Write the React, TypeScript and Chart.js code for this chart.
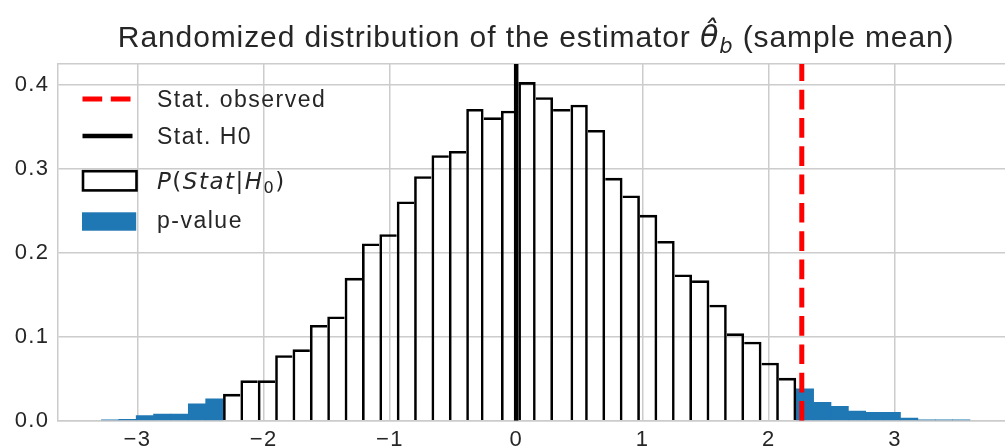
import React, { useEffect, useRef } from 'react';
import { Chart, registerables } from 'chart.js';

Chart.register(...registerables);

// ---------------- data ----------------
const binCenters = [
  -3.2162, -3.0786, -2.9410, -2.8035, -2.6659, -2.5283, -2.3907, -2.2531, -2.1156, -1.9780,
  -1.8404, -1.7028, -1.5652, -1.4277, -1.2901, -1.1525, -1.0149, -0.8773, -0.7398, -0.6022,
  -0.4646, -0.3270, -0.1894, -0.0519, 0.0857, 0.2233, 0.3609, 0.4985, 0.6360, 0.7736,
  0.9112, 1.0488, 1.1864, 1.3239, 1.4615, 1.5991, 1.7367, 1.8743, 2.0118, 2.1494,
  2.2870, 2.4246, 2.5622, 2.6997, 2.8373, 2.9749, 3.1125, 3.2501, 3.3876, 3.5252,
];
const density = [
  0.0008, 0.0015, 0.006, 0.008, 0.008, 0.020, 0.026, 0.032, 0.048, 0.048,
  0.078, 0.085, 0.114, 0.124, 0.170, 0.211, 0.222, 0.261, 0.291, 0.316,
  0.321, 0.371, 0.361, 0.369, 0.403, 0.385, 0.371, 0.376, 0.346, 0.289,
  0.268, 0.245, 0.214, 0.174, 0.167, 0.138, 0.104, 0.094, 0.069, 0.051,
  0.038, 0.022, 0.017, 0.0115, 0.010, 0.010, 0.003, 0.0008, 0.0008, 0.0008,
];
const statObserved = 2.262;
const statH0 = 0;
const xLimits = [-3.629, 3.938];
const yLimits = [0, 0.4245];
const xTickValues = [-3, -2, -1, 0, 1, 2, 3];
const yTickValues = [0, 0.1, 0.2, 0.3, 0.4];
const titleText = 'Randomized distribution of the estimator $\\hat{\\theta}_b$ (sample mean)';
const legendLabels = ['Stat. observed', 'Stat. H0', '$P(Stat|H_0)$', 'p-value'];

// ---------------- style ----------------
const CANVAS_W = 1030;
const CANVAS_H = 480;
const PLOT_LEFT = 58;
const PLOT_TOP = 64;
const PLOT_RIGHT = 1013.4;
const PLOT_BOTTOM = 420.7;
const TEXT_FONT = '"Liberation Sans", Arial, sans-serif';
const MATH_FONT = '"DejaVu Sans", sans-serif';
const TEXT_COLOR = '#262626';
const GRID_COLOR = '#cccccc';
const TICK_SIZE = 22;
const TICK_SPACING = '1.3px';
const LEGEND_SIZE = 23;
const LEGEND_SPACING = 1.5;
const TITLE_SIZE = 30;
const TITLE_SPACING = 0.9;
const EDGE = 2.6;

const isTail = (i: number) => i >= 0 && i < binCenters.length && Math.abs(binCenters[i]) >= statObserved;

type Seg = { t: string; italic: boolean; sub: boolean; math: boolean };

function parseRich(s: string): Seg[] {
  const segs: Seg[] = [];
  s.split('$').forEach((p, k) => {
    if (k % 2 === 0) {
      if (p) segs.push({ t: p, italic: false, sub: false, math: false });
      return;
    }
    let i = 0;
    let sub = false;
    while (i < p.length) {
      const hat = '\\hat{\\theta}';
      if (p.startsWith(hat, i)) {
        segs.push({ t: '\u03b8\u0302', italic: true, sub, math: true });
        i += hat.length;
        sub = false;
        continue;
      }
      const c = p[i];
      if (c === '_') {
        sub = true;
        i++;
        continue;
      }
      segs.push({ t: c, italic: /[A-Za-z]/.test(c), sub, math: true });
      sub = false;
      i++;
    }
  });
  return segs;
}

function drawRich(
  ctx: CanvasRenderingContext2D,
  text: string,
  x: number,
  y: number,
  size: number,
  spacing: number,
  align: 'left' | 'center'
) {
  const segs = parseRich(text);
  const fontOf = (s: Seg) => {
    const sz = s.sub ? size * 0.7 : size;
    return `${s.italic ? 'italic ' : ''}${sz}px ${s.math ? MATH_FONT : TEXT_FONT}`;
  };
  ctx.save();
  (ctx as any).letterSpacing = `${spacing}px`;
  const widths = segs.map((s) => {
    ctx.font = fontOf(s);
    return ctx.measureText(s.t).width;
  });
  const total = widths.reduce((a, b) => a + b, 0) - spacing;
  let cx = align === 'center' ? x - total / 2 : x;
  ctx.fillStyle = TEXT_COLOR;
  ctx.textAlign = 'left';
  ctx.textBaseline = 'alphabetic';
  segs.forEach((s, k) => {
    ctx.font = fontOf(s);
    ctx.fillText(s.t, cx, y + (s.sub ? size * 0.2 : 0));
    cx += widths[k];
  });
  ctx.restore();
}

const tickSpacingPlugin = {
  id: 'tickSpacing',
  beforeDraw(chart: any) {
    (chart.ctx as any).letterSpacing = TICK_SPACING;
  },
  beforeDatasetsDraw(chart: any) {
    (chart.ctx as any).letterSpacing = '0px';
  },
};

const titlePlugin = {
  id: 'richTitle',
  afterDraw(chart: any) {
    const { ctx, chartArea } = chart;
    drawRich(ctx, titleText, (chartArea.left + chartArea.right) / 2, 47, TITLE_SIZE, TITLE_SPACING, 'center');
  },
};

// rows: [sampleCenterY, textBaselineY] relative to plot top
const legendRows = [
  [35, 43.3],
  [72, 80.3],
  [116.8, 124.5],
  [157.5, 164.3],
];

const legendPlugin = {
  id: 'richLegend',
  afterDraw(chart: any) {
    const { ctx, chartArea } = chart;
    const x0 = chartArea.left + 24.5;
    const tx = chartArea.left + 99;
    chart.data.datasets.forEach((ds: any, k: number) => {
      const [sy, by] = legendRows[k];
      const y = chartArea.top + sy;
      ctx.save();
      if (ds.type === 'line') {
        ctx.strokeStyle = ds.borderColor;
        ctx.lineWidth = ds.borderWidth;
        ctx.setLineDash(ds.borderDash || []);
        ctx.beginPath();
        ctx.moveTo(x0, y);
        ctx.lineTo(x0 + 50, y);
        ctx.stroke();
      } else if (ds.legendKind === 'outline') {
        ctx.strokeStyle = '#000000';
        ctx.lineWidth = EDGE;
        ctx.strokeRect(x0 + 0.5, y - 9.6, 53.5, 19.2);
      } else {
        ctx.fillStyle = ds.backgroundColor;
        ctx.fillRect(x0 - 0.5, y - 9.2, 54.2, 18.4);
      }
      ctx.restore();
      drawRich(ctx, ds.label, tx, chartArea.top + by, LEGEND_SIZE, LEGEND_SPACING, 'left');
    });
  },
};

const fmtX = (v: number) => (v < 0 ? '\u2212' + Math.abs(v) : String(v));

// each shared vertical edge is drawn once, by the taller of the two neighbouring bars
const outlineBorder = (c: any) => {
  const i = c.dataIndex;
  const last = binCenters.length - 1;
  const left = i === 0 || isTail(i - 1) || density[i] >= density[i - 1];
  const right = i === last || isTail(i + 1) || density[i] > density[i + 1];
  return { top: EDGE, bottom: 0, left: left ? EDGE : 0, right: right ? EDGE : 0 };
};

export default function App() {
  const ref = useRef<HTMLCanvasElement>(null);

  useEffect(() => {
    document.body.style.margin = '0';
    const outline = binCenters.map((x, i) => ({ x, y: isTail(i) ? null : density[i] }));
    const tails = binCenters.map((x, i) => ({ x, y: isTail(i) ? density[i] : null }));

    const chart = new Chart(ref.current as HTMLCanvasElement, {
      type: 'bar',
      data: {
        datasets: [
          {
            type: 'line',
            label: legendLabels[0],
            data: [
              { x: statObserved, y: yLimits[0] },
              { x: statObserved, y: yLimits[1] },
            ],
            borderColor: '#ff0000',
            borderWidth: 5,
            borderDash: [19.7, 8.6],
            borderCapStyle: 'butt',
            pointRadius: 0,
            fill: false,
            order: 0,
          } as any,
          {
            type: 'line',
            label: legendLabels[1],
            data: [
              { x: statH0, y: yLimits[0] },
              { x: statH0, y: yLimits[1] },
            ],
            borderColor: '#000000',
            borderWidth: 4.5,
            pointRadius: 0,
            fill: false,
            order: 1,
          } as any,
          {
            type: 'bar',
            label: legendLabels[2],
            legendKind: 'outline',
            data: outline,
            backgroundColor: 'rgba(255,255,255,0)',
            borderColor: '#000000',
            borderWidth: outlineBorder,
            borderSkipped: false,
            inflateAmount: 0,
            grouped: false,
            barPercentage: 1,
            categoryPercentage: 1,
            order: 2,
          } as any,
          {
            type: 'bar',
            label: legendLabels[3],
            legendKind: 'fill',
            data: tails,
            backgroundColor: '#1f77b4',
            borderWidth: 0,
            grouped: false,
            barPercentage: 1,
            categoryPercentage: 1,
            order: 3,
          } as any,
        ],
      },
      options: {
        responsive: false,
        animation: false,
        devicePixelRatio: 1,
        events: [],
        layout: {
          padding: { left: 0, top: PLOT_TOP, right: CANVAS_W - PLOT_RIGHT, bottom: 0 },
        },
        plugins: {
          legend: { display: false },
          title: { display: false },
          tooltip: { enabled: false },
        },
        scales: {
          x: {
            type: 'linear',
            min: xLimits[0],
            max: xLimits[1],
            offset: false,
            afterBuildTicks: (s: any) => {
              s.ticks = xTickValues.map((v) => ({ value: v }));
            },
            afterFit: (s: any) => {
              s.height = CANVAS_H - PLOT_BOTTOM;
            },
            grid: { color: GRID_COLOR, lineWidth: 1.5, drawTicks: false, offset: false },
            border: { color: GRID_COLOR, width: 1.5 },
            ticks: {
              font: { family: TEXT_FONT, size: TICK_SIZE },
              color: TEXT_COLOR,
              padding: 6,
              maxRotation: 0,
              autoSkip: false,
              callback: (v: any) => fmtX(Number(v)),
            },
          },
          xTop: {
            type: 'linear',
            axis: 'x',
            position: 'top',
            min: xLimits[0],
            max: xLimits[1],
            afterFit: (s: any) => {
              s.height = 0;
            },
            grid: { display: false, drawTicks: false },
            border: { color: GRID_COLOR, width: 1.5 },
            ticks: { display: false },
          },
          y: {
            type: 'linear',
            min: yLimits[0],
            max: yLimits[1],
            afterBuildTicks: (s: any) => {
              s.ticks = yTickValues.map((v) => ({ value: v }));
            },
            afterFit: (s: any) => {
              s.width = PLOT_LEFT;
            },
            grid: { color: GRID_COLOR, lineWidth: 1.5, drawTicks: false },
            border: { color: GRID_COLOR, width: 1.5 },
            ticks: {
              font: { family: TEXT_FONT, size: TICK_SIZE },
              color: TEXT_COLOR,
              padding: 8.7,
              callback: (v: any) => Number(v).toFixed(1),
            },
          },
        } as any,
      },
      plugins: [tickSpacingPlugin, titlePlugin, legendPlugin],
    } as any);
    return () => chart.destroy();
  }, []);

  return (
    <div
      style={{
        position: 'fixed',
        left: 0,
        top: 0,
        width: 1005,
        height: 446,
        overflow: 'hidden',
        background: '#ffffff',
      }}
    >
      <canvas
        ref={ref}
        width={CANVAS_W}
        height={CANVAS_H}
        style={{ display: 'block', width: CANVAS_W, height: CANVAS_H }}
      />
    </div>
  );
}
